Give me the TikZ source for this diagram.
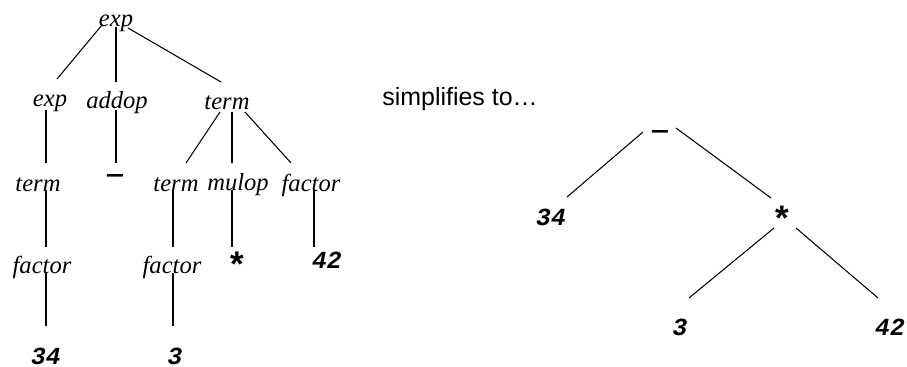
\documentclass[tikz,border=0pt]{standalone}
\usepackage{fontspec}
\setmainfont{Liberation Serif}
\newfontfamily\codefont{Liberation Mono}
\newfontfamily\labelsans{Liberation Sans}
\usetikzlibrary{positioning}

\tikzset{
 nt/.style={font=\fontsize{14}{16}\selectfont\itshape,inner sep=0pt},
 tok/.style={font=\codefont\fontsize{14}{16}\selectfont\bfseries\itshape,inner sep=0pt},
 optok/.style={font=\codefont\fontsize{15}{17}\selectfont\bfseries,inner sep=0pt},
 startok/.style={font=\codefont\fontsize{20}{22}\selectfont\bfseries,inner sep=0pt},
 branch/.style={line width=0.6pt},
}

\begin{document}
\begin{tikzpicture}[x=0.02cm,y=-0.02cm]
 \useasboundingbox (0,0) rectangle (907,367);
 % parse tree
 \node[nt] (e0) at (116,23) {exp};
 \node[nt] (e1) at (50,103) {exp};
 \node[nt] (add) at (117,103) {addop};
 \node[nt] (t1) at (227,103) {term};
 \node[nt] (t2) at (38,185) {term};
 \node[optok] (minus) at (115,179) {—};
 \node[nt] (t3) at (176,185) {term};
 \node[nt] (mul) at (238,185) {mulop};
 \node[nt] (f1) at (311,185) {factor};
 \node[nt] (f2) at (42,267) {factor};
 \node[nt] (f3) at (172,267) {factor};
 \node[startok] (star) at (237,265) {*};
 \node[tok] (n42) at (327,260) {42};
 \node[tok] (n34) at (46,356) {34};
 \node[tok] (n3) at (175,356) {3};
 \draw[branch] ([shift={(-14,2)}]e0.center) -- ([shift={(7,-24)}]e1.center);
 \draw[branch] ([shift={(0,4)}]e0.center) -- ([shift={(-1,-21)}]add.center);
 \draw[branch] ([shift={(12,5)}]e0.center) -- ([shift={(-6,-21)}]t1.center);
 \draw[branch] ([shift={(-4,7)}]e1.center) -- ([shift={(8,-22)}]t2.center);
 \draw[branch] ([shift={(-1,7)}]add.center) -- ([shift={(1,-16)}]minus.center);
 \draw[branch] ([shift={(-7,9)}]t1.center) -- ([shift={(10,-22)}]t3.center);
 \draw[branch] ([shift={(5,9)}]t1.center) -- ([shift={(-6,-22)}]mul.center);
 \draw[branch] ([shift={(18,9)}]t1.center) -- ([shift={(-20,-22)}]f1.center);
 \draw[branch] ([shift={(8,5)}]t2.center) -- ([shift={(4,-20)}]f2.center);
 \draw[branch] ([shift={(-3,5)}]t3.center) -- ([shift={(1,-20)}]f3.center);
 \draw[branch] ([shift={(-6,5)}]mul.center) -- ([shift={(-5,-18)}]star.center);
 \draw[branch] ([shift={(3,5)}]f1.center) -- ([shift={(-13,-13)}]n42.center);
 \draw[branch] ([shift={(4,6)}]f2.center) -- ([shift={(0,-30)}]n34.center);
 \draw[branch] ([shift={(1,6)}]f3.center) -- ([shift={(-2,-30)}]n3.center);

 \node[font=\labelsans\fontsize{14.2}{16}\selectfont,inner sep=0pt] (simp) at (460,99) {simplifies to…};

 % syntax tree
 \node[optok] (sminus) at (660,135) {—};
 \node[tok] (s34) at (551,217) {34};
 \node[startok] (sstar) at (782,219) {*};
 \node[tok] (s3) at (680,327) {3};
 \node[tok] (s42) at (890,327) {42};
 \draw[branch] ([shift={(-17,-3)}]sminus.center) -- ([shift={(16,-20)}]s34.center);
 \draw[branch] ([shift={(16,-7)}]sminus.center) -- ([shift={(-11,-21)}]sstar.center);
 \draw[branch] ([shift={(-8,9)}]sstar.center) -- ([shift={(9,-29)}]s3.center);
 \draw[branch] ([shift={(14,9)}]sstar.center) -- ([shift={(-12,-29)}]s42.center);
\end{tikzpicture}
\end{document}
